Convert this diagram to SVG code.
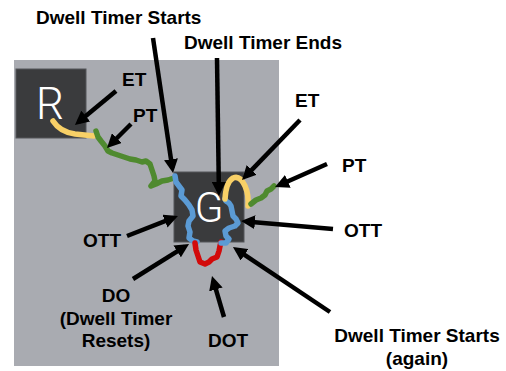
<svg xmlns="http://www.w3.org/2000/svg" width="506" height="371" viewBox="0 0 506 371">
<style>
.lbl{font-family:"Liberation Sans",Arial,sans-serif;font-weight:bold;font-size:19px;fill:#000}
.box{fill:#3a3b3d;stroke:#55575b;stroke-width:1}
.big{font-family:Roboto,"Open Sans",sans-serif;font-weight:300;fill:#fff}
.trk{fill:none;stroke-width:5.5;stroke-linejoin:round;stroke-linecap:round}
.yel{stroke:#f8d067}.grn{stroke:#4f8a2f}.blu{stroke:#5b9bd5}.red{stroke:#d20a0a}
.arr{stroke:#000;stroke-width:4.5;fill:none;marker-end:url(#ah)}
</style>
<defs>
<marker id="ah" markerUnits="userSpaceOnUse" markerWidth="15" markerHeight="14" refX="9" refY="7" orient="auto">
<path d="M0,0 L14,7 L0,14 z" fill="#000"/>
</marker>
</defs>
<rect width="506" height="371" fill="#fff"/>
<rect x="14" y="60" width="265" height="306" fill="#a9abb1"/>
<g id="node-R">
<rect class="box" x="16" y="69" width="70" height="69"/>
<text class="big" x="50" y="119" font-size="44" text-anchor="middle">R</text>
</g>
<g id="node-G">
<rect class="box" x="174" y="172" width="70" height="70"/>
<text class="big" x="209" y="222" font-size="42" text-anchor="middle">G</text>
</g>
<g id="tracks">
<path class="trk yel" d="M53,121 Q60,132 75,134 L94,136"/>
<polyline class="trk grn" points="96,131 98,137 101,141 105,146 108,151 112,153 118,155 124,157 130,159 136,160 142,162 146,161 150,164 152,170 154,176 155,181 151,186 156,184 162,181 168,180 174,178"/>
<polyline class="trk blu" points="175,176 176,182 179,186 182,190 181,196 185,200 189,205 192,210 193,216 189,221 188,226 190,232 189,238 193,241 197,242"/>
<polyline class="trk red" points="195,243 196,250 198,256 200,262 205,264 209,262 212,259 217,257 219,251 220,246 221,242"/>
<polyline class="trk blu" points="221,243 226,243 229,239 226,236 225,231 229,228 235,226 238,223 236,219 233,216 232,211 231,206 229,203 226,201 225,199"/>
<path class="trk yel" d="M225,199 Q226,182 233,178 Q240,175 245,186 Q249,195 248,206"/>
<polyline class="trk grn" points="251,204 256,200 261,198 265,195 267,191 271,189 274,186"/>
</g>
<g id="connectors">
<line class="arr" x1="153" y1="38" x2="172.3" y2="168.1"/>
<line class="arr" x1="217" y1="58" x2="218.9" y2="191"/>
<line class="arr" x1="116" y1="91" x2="78.8" y2="121.8"/>
<line class="arr" x1="131" y1="124" x2="110.5" y2="144.5"/>
<line class="arr" x1="300" y1="120" x2="245.5" y2="176.4"/>
<line class="arr" x1="327" y1="164" x2="279.6" y2="185"/>
<line class="arr" x1="333" y1="229" x2="246" y2="221.4"/>
<line class="arr" x1="127" y1="236" x2="173.3" y2="217.8"/>
<line class="arr" x1="133" y1="279" x2="184.8" y2="246.6"/>
<line class="arr" x1="224" y1="317" x2="213.4" y2="280.8"/>
<line class="arr" x1="330" y1="312" x2="237.1" y2="249.8"/>
</g>
<g id="labels">
<text class="lbl" x="36" y="24">Dwell Timer Starts</text>
<text class="lbl" x="184" y="49">Dwell Timer Ends</text>
<text class="lbl" x="122" y="86">ET</text>
<text class="lbl" x="133" y="122">PT</text>
<text class="lbl" x="295" y="107">ET</text>
<text class="lbl" x="342" y="172">PT</text>
<text class="lbl" x="344" y="237">OTT</text>
<text class="lbl" x="83" y="247">OTT</text>
<text class="lbl" text-anchor="middle"><tspan x="116" y="302">DO</tspan><tspan x="116" y="325">(Dwell Timer</tspan><tspan x="116" y="347">Resets)</tspan></text>
<text class="lbl" x="208" y="347">DOT</text>
<text class="lbl" text-anchor="middle"><tspan x="417" y="342">Dwell Timer Starts</tspan><tspan x="417" y="365">(again)</tspan></text>
</g>
</svg>
